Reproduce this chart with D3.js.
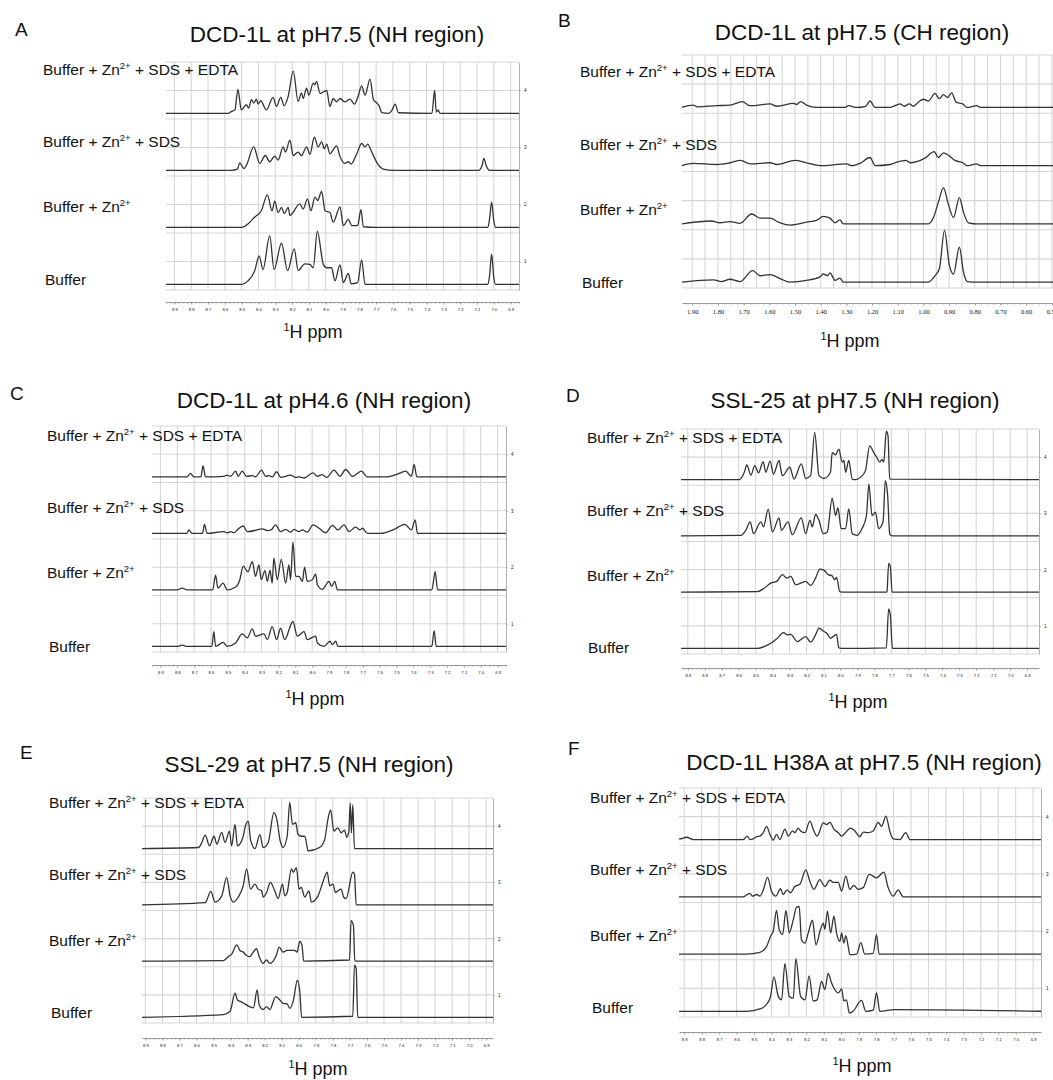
<!DOCTYPE html>
<html>
<head>
<meta charset="utf-8">
<script src="https://cdn.jsdelivr.net/npm/d3@7"></script>
<style>
  body { margin: 0; background: #fff; }
  text { font-family: "Liberation Sans", Arial, sans-serif; fill: #111; }
</style>
</head>
<body>
<svg id="fig" width="1053" height="1080"></svg>
<script>
// condition labels, top to bottom (text, superscript, rest)
var conditions = [
  ["Buffer + Zn", "2+", " + SDS + EDTA"],
  ["Buffer + Zn", "2+", " + SDS"],
  ["Buffer + Zn", "2+", ""],
  ["Buffer", "", ""]
];
// vertical stacking offset of each trace (y units)
var stackOffsets = [3.6, 2.6, 1.6, 0.6];

var nhTicks = [8.9, 8.8, 8.7, 8.6, 8.5, 8.4, 8.3, 8.2, 8.1, 8.0, 7.9, 7.8, 7.7, 7.6, 7.5, 7.4, 7.3, 7.2, 7.1, 7.0, 6.9];
var chTicks = [1.9, 1.8, 1.7, 1.6, 1.5, 1.4, 1.3, 1.2, 1.1, 1.0, 0.9, 0.8, 0.7, 0.6, 0.5];
var yTicks = [1, 2, 3, 4];

// spectra as [ppm, intensity]
// A: DCD-1L pH7.5 NH
var a_edta = [[8.95,0],[8.58,0],[8.562,0.03],[8.54,0.06],[8.522,0.42],[8.502,0.06],[8.472,0.15],[8.458,0.09],[8.442,0.24],[8.428,0.18],[8.412,0.25],[8.402,0.16],[8.387,0.22],[8.353,0.06],[8.313,0.28],[8.293,0.12],[8.267,0.28],[8.247,0.13],[8.223,0.3],[8.193,0.74],[8.164,0.21],[8.144,0.36],[8.134,0.26],[8.114,0.44],[8.1,0.32],[8.074,0.53],[8.064,0.5],[8.054,0.56],[8.034,0.35],[7.994,0.4],[7.975,0.12],[7.955,0.26],[7.935,0.2],[7.915,0.26],[7.885,0.2],[7.855,0.25],[7.829,0.16],[7.809,0.28],[7.786,0.48],[7.766,0.32],[7.736,0.6],[7.716,0.24],[7.696,0.18],[7.682,0.13],[7.666,0.01],[7.626,0],[7.606,0.05],[7.587,0.16],[7.567,0.01],[7.368,0],[7.352,0.4],[7.342,0.02],[7.332,0.06],[7.32,0],[6.85,0]];
var a_sds = [[8.95,0],[8.562,0],[8.525,0.02],[8.512,0.13],[8.486,0.03],[8.47,0.1],[8.428,0.41],[8.393,0.12],[8.359,0.26],[8.333,0.15],[8.303,0.25],[8.283,0.18],[8.253,0.41],[8.239,0.32],[8.213,0.53],[8.193,0.26],[8.164,0.32],[8.144,0.26],[8.114,0.41],[8.094,0.28],[8.068,0.58],[8.044,0.41],[8.024,0.5],[8.008,0.38],[7.994,0.46],[7.975,0.29],[7.935,0.43],[7.915,0.24],[7.885,0.12],[7.865,0.15],[7.849,0.11],[7.815,0.29],[7.786,0.47],[7.766,0.41],[7.75,0.46],[7.726,0.32],[7.686,0.09],[7.646,0.01],[7.6,0],[7.09,0],[7.07,0.08],[7.059,0.21],[7.045,0.08],[7.025,0],[6.85,0]];
var a_zn = [[8.95,0],[8.5,0],[8.462,0.06],[8.422,0.18],[8.383,0.29],[8.347,0.57],[8.319,0.29],[8.303,0.46],[8.283,0.26],[8.263,0.35],[8.247,0.24],[8.223,0.35],[8.213,0.21],[8.154,0.41],[8.134,0.32],[8.108,0.5],[8.088,0.29],[8.064,0.53],[8.048,0.47],[8.024,0.63],[8.004,0.29],[7.975,0.26],[7.955,0.09],[7.915,0.36],[7.895,0.03],[7.865,0.14],[7.845,0.03],[7.81,0.03],[7.79,0.31],[7.776,0.01],[7.7,0],[7.035,0],[7.025,0.15],[7.013,0.44],[7.0,0.12],[6.99,0],[6.85,0]];
var a_buffer = [[8.95,0],[8.5,0],[8.462,0.06],[8.422,0.24],[8.396,0.5],[8.373,0.26],[8.333,0.85],[8.307,0.26],[8.263,0.72],[8.227,0.24],[8.187,0.62],[8.164,0.24],[8.124,0.36],[8.094,0.35],[8.074,0.29],[8.05,0.93],[8.014,0.35],[7.994,0.29],[7.965,0.29],[7.945,0.06],[7.915,0.34],[7.895,0.03],[7.865,0.19],[7.849,0.01],[7.81,0.03],[7.786,0.43],[7.766,0],[7.035,0],[7.025,0.15],[7.013,0.53],[7.0,0.12],[6.99,0],[6.85,0]];

// B: DCD-1L pH7.5 CH
var b_edta = [[1.942,0],[1.896,0.04],[1.88,0.01],[1.805,0.03],[1.753,0.04],[1.705,0.1],[1.675,0.03],[1.597,0.06],[1.571,0.02],[1.506,0.07],[1.494,0.05],[1.478,0.1],[1.455,0.04],[1.416,0],[1.305,0],[1.292,0.03],[1.26,0],[1.225,0.02],[1.208,0.11],[1.188,0],[1.13,0],[1.091,0.06],[1.075,0.02],[1.055,0.06],[1.039,0.02],[1.02,0.09],[1.0,0.14],[0.981,0.11],[0.955,0.24],[0.938,0.15],[0.922,0.22],[0.906,0.17],[0.89,0.25],[0.873,0.09],[0.847,0.06],[0.831,0],[0.792,0.03],[0.779,0],[0.48,0]];
var b_sds = [[1.942,0],[1.896,0.04],[1.805,0.02],[1.753,0.05],[1.712,0.09],[1.675,0.03],[1.597,0.05],[1.571,0.02],[1.5,0.09],[1.455,0.05],[1.403,0],[1.299,0.03],[1.279,0],[1.247,0.04],[1.208,0.14],[1.188,0],[1.13,0.02],[1.104,0.06],[1.068,0.09],[1.052,0.05],[1.026,0.07],[0.994,0.13],[0.958,0.24],[0.942,0.14],[0.922,0.22],[0.903,0.18],[0.877,0.09],[0.847,0.05],[0.831,0],[0.792,0.03],[0.779,0],[0.48,0]];
var b_zn = [[1.942,0],[1.825,0.05],[1.792,0.02],[1.753,0.04],[1.714,0.01],[1.669,0.17],[1.636,0.1],[1.597,0.1],[1.565,0.03],[1.519,-0.02],[1.455,0.03],[1.416,0.06],[1.39,0.13],[1.364,0.1],[1.344,0.02],[1.325,0.07],[1.312,0],[0.981,0],[0.961,0.11],[0.942,0.37],[0.922,0.62],[0.903,0.34],[0.883,0.11],[0.86,0.45],[0.844,0.2],[0.825,0.02],[0.79,0],[0.48,0]];
var b_buffer = [[1.942,0],[1.818,0.04],[1.786,0.01],[1.753,0.05],[1.714,0.01],[1.665,0.2],[1.636,0.11],[1.597,0.13],[1.558,0.06],[1.519,0],[1.455,0.03],[1.403,0.09],[1.39,0.14],[1.373,0.11],[1.364,0.16],[1.344,0.03],[1.325,0.07],[1.312,0],[0.981,0],[0.955,0.11],[0.938,0.23],[0.918,0.89],[0.899,0.29],[0.883,0.14],[0.86,0.6],[0.844,0.17],[0.829,0.01],[0.79,0],[0.48,0]];

// C: DCD-1L pH4.6 NH
var c_edta = [[8.95,0],[8.742,0],[8.722,0.06],[8.702,0],[8.66,0],[8.647,0.2],[8.633,0],[8.524,0.01],[8.504,0.03],[8.484,0.01],[8.454,0.1],[8.439,0.01],[8.415,0.1],[8.389,0.01],[8.355,0.02],[8.336,0],[8.3,0.12],[8.276,0.01],[8.256,0.02],[8.237,0],[8.211,0.09],[8.187,-0.01],[8.128,0.03],[8.098,-0.01],[8.078,0],[8.048,-0.02],[7.995,0.07],[7.969,0.01],[7.94,0.04],[7.914,-0.01],[7.87,0.12],[7.835,0.01],[7.801,0.13],[7.761,0.01],[7.736,0.05],[7.708,0.1],[7.672,0],[7.553,0],[7.494,0.05],[7.445,0.1],[7.411,0.01],[7.395,0.22],[7.379,0],[6.85,0]];
var c_sds = [[8.95,0],[8.742,0],[8.732,0.06],[8.712,0],[8.65,0],[8.639,0.16],[8.623,0],[8.524,0.03],[8.504,0.01],[8.48,0.03],[8.464,0.01],[8.441,0.07],[8.409,0.13],[8.385,0.03],[8.326,0.06],[8.296,0.08],[8.266,0.05],[8.243,0.06],[8.217,0.15],[8.187,0.03],[8.157,0.07],[8.128,0.02],[8.108,0.07],[8.078,0.03],[8.058,0.06],[8.029,0.02],[7.995,0.15],[7.959,0.09],[7.92,0.01],[7.88,0.14],[7.847,0.06],[7.811,0.15],[7.781,0.03],[7.742,0.11],[7.716,0.06],[7.702,0.09],[7.672,0],[7.593,0],[7.514,0.07],[7.45,0.16],[7.411,0.06],[7.389,0.24],[7.375,0],[6.85,0]];
var c_zn = [[8.95,0],[8.8,0],[8.771,0.03],[8.742,0],[8.59,0],[8.573,0.26],[8.559,0.03],[8.528,0.12],[8.504,0],[8.454,0.05],[8.429,0.18],[8.409,0.42],[8.381,0.32],[8.355,0.5],[8.336,0.24],[8.316,0.44],[8.302,0.18],[8.28,0.34],[8.266,0.15],[8.25,0.35],[8.237,0.12],[8.227,0.56],[8.207,0.18],[8.183,0.54],[8.157,0.12],[8.138,0.44],[8.128,0.18],[8.114,0.85],[8.098,0.24],[8.078,0.24],[8.058,0.15],[8.045,0.4],[8.029,0.15],[7.999,0.18],[7.979,0.28],[7.969,0.09],[7.94,0.01],[7.9,0.15],[7.884,0.06],[7.866,0.15],[7.85,0],[7.29,0],[7.27,0.32],[7.256,0],[6.85,0]];
var c_buffer = [[8.95,0],[8.8,0],[8.771,0.02],[8.742,0],[8.595,0],[8.583,0.26],[8.573,0],[8.528,0.07],[8.504,0],[8.454,0.06],[8.415,0.22],[8.385,0.15],[8.355,0.31],[8.336,0.18],[8.286,0.22],[8.266,0.12],[8.237,0.35],[8.211,0.12],[8.187,0.32],[8.163,0.12],[8.114,0.44],[8.088,0.18],[8.048,0.26],[8.029,0.12],[7.979,0.18],[7.969,0.06],[7.93,0],[7.894,0.09],[7.88,0.03],[7.86,0.09],[7.847,0],[7.29,0],[7.276,0.28],[7.264,0],[6.85,0]];

// D: SSL-25 pH7.5 NH
var d_edta = [[8.95,0],[8.597,0],[8.567,0.13],[8.552,0.26],[8.528,0.08],[8.505,0.25],[8.483,0.12],[8.456,0.32],[8.44,0.13],[8.415,0.33],[8.395,0.1],[8.362,0.34],[8.352,0.19],[8.342,0.07],[8.299,0.22],[8.274,0.01],[8.231,0.28],[8.205,0.02],[8.176,0.07],[8.152,0.84],[8.127,0.07],[8.098,0.02],[8.059,0.13],[8.049,0.48],[8.029,0.44],[8.01,0.54],[7.99,0.31],[7.98,0.34],[7.97,0.13],[7.951,0.34],[7.931,0.01],[7.912,0],[7.882,0.04],[7.853,0.16],[7.828,0.6],[7.804,0.48],[7.785,0.39],[7.769,0.31],[7.755,0.36],[7.745,0.31],[7.73,0.86],[7.72,0.78],[7.71,0.01],[6.83,0]];
var d_sds = [[8.95,0],[8.587,0.01],[8.558,0.1],[8.532,0.25],[8.513,0.04],[8.469,0.25],[8.454,0.16],[8.426,0.47],[8.401,0.07],[8.362,0.32],[8.348,0.1],[8.309,0.25],[8.284,0.02],[8.231,0.32],[8.205,0.04],[8.18,0.28],[8.166,0.16],[8.147,0.38],[8.127,0.28],[8.102,0.04],[8.078,0.07],[8.049,0.67],[8.029,0.36],[8.015,0.5],[7.996,0.13],[7.97,0.13],[7.951,0.48],[7.931,0.04],[7.902,0.01],[7.873,0.13],[7.847,0.36],[7.833,0.92],[7.814,0.36],[7.794,0.42],[7.775,0.13],[7.749,0.25],[7.736,0.98],[7.722,0.72],[7.71,0.04],[7.696,0],[6.83,0]];
var d_zn = [[8.95,0],[8.489,0.01],[8.45,0.07],[8.411,0.16],[8.376,0.19],[8.342,0.31],[8.317,0.25],[8.293,0.28],[8.264,0.13],[8.205,0.19],[8.176,0.12],[8.147,0.25],[8.121,0.41],[8.098,0.39],[8.072,0.31],[8.049,0.29],[8.035,0.22],[8.023,0.26],[8.004,0.01],[7.98,0],[7.73,0],[7.726,0.01],[7.716,0.51],[7.706,0.45],[7.696,0],[6.83,0]];
var d_buffer = [[8.95,0],[8.489,0],[8.45,0.03],[8.411,0.09],[8.372,0.18],[8.336,0.28],[8.313,0.24],[8.293,0.25],[8.254,0.12],[8.205,0.21],[8.176,0.11],[8.147,0.24],[8.127,0.36],[8.102,0.31],[8.078,0.26],[8.059,0.18],[8.023,0.25],[8.01,0.01],[7.98,0],[7.73,0.01],[7.716,0.7],[7.706,0.59],[7.694,0],[6.83,0]];

// E: SSL-29 pH7.5 NH
var e_edta = [[8.95,0],[8.588,0.02],[8.569,0.11],[8.549,0.24],[8.524,0.05],[8.497,0.22],[8.481,0.08],[8.452,0.29],[8.433,0.11],[8.407,0.31],[8.394,0.05],[8.374,0.43],[8.36,0.05],[8.326,0.22],[8.316,0.37],[8.306,0.46],[8.296,0.49],[8.283,0.16],[8.257,0],[8.228,0.25],[8.209,0.02],[8.179,0.11],[8.146,0.64],[8.131,0.55],[8.107,0.11],[8.092,0.02],[8.068,0.22],[8.053,0.82],[8.037,0.43],[8.018,0.46],[8.004,0.25],[7.985,0.22],[7.965,0.22],[7.952,0.05],[7.946,-0.04],[7.878,0.02],[7.848,0.16],[7.829,0.52],[7.813,0.69],[7.794,0.31],[7.771,0.37],[7.751,0.28],[7.732,0.33],[7.718,0.2],[7.706,0.31],[7.698,0.81],[7.691,0.28],[7.683,0.78],[7.673,0],[6.85,0]];
var e_sds = [[8.95,0],[8.549,0.04],[8.516,0.24],[8.491,0.05],[8.452,0.16],[8.423,0.49],[8.403,0.16],[8.384,0.05],[8.355,0.14],[8.326,0.34],[8.306,0.64],[8.283,0.28],[8.257,0.37],[8.238,0.28],[8.218,0.25],[8.209,0.14],[8.189,0.22],[8.166,0.4],[8.141,0.25],[8.121,0.11],[8.096,0.37],[8.082,0.16],[8.068,0.22],[8.043,0.64],[8.033,0.58],[8.014,0.66],[7.998,0.28],[7.985,0.31],[7.965,0.14],[7.94,0.25],[7.926,0.05],[7.887,0.16],[7.862,0.37],[7.833,0.58],[7.819,0.34],[7.8,0.37],[7.784,0.22],[7.771,0.25],[7.751,0.28],[7.737,0.14],[7.722,0.11],[7.683,0.58],[7.673,0.55],[7.663,0],[6.85,0]];
var e_zn = [[8.95,0],[8.442,0.01],[8.413,0.08],[8.394,0.12],[8.364,0.29],[8.345,0.19],[8.326,0.16],[8.31,0.11],[8.29,0.08],[8.248,0.22],[8.232,0.08],[8.209,-0.04],[8.189,0.02],[8.17,-0.04],[8.131,0.11],[8.115,0.25],[8.092,0.16],[8.068,0.19],[8.043,0.19],[8.024,0.19],[8.01,0.16],[7.994,0.35],[7.981,0.28],[7.971,0],[7.702,0.02],[7.693,0.72],[7.679,0.63],[7.671,0],[6.85,0]];
var e_buffer = [[8.95,0],[8.442,0.05],[8.403,0.11],[8.374,0.43],[8.36,0.31],[8.341,0.28],[8.316,0.24],[8.296,0.2],[8.266,0.17],[8.244,0.49],[8.232,0.22],[8.209,0.14],[8.189,0.19],[8.17,0.14],[8.135,0.37],[8.111,0.31],[8.092,0.25],[8.068,0.24],[8.053,0.16],[8.033,0.28],[8.008,0.66],[7.994,0.46],[7.983,0],[7.683,0.02],[7.673,0.93],[7.663,0.87],[7.654,0],[6.85,0]];

// F: DCD-1L H38A pH7.5 NH
var f_edta = [[8.95,0.01],[8.925,0.01],[8.887,0.04],[8.848,0],[8.562,0],[8.539,0.06],[8.524,0],[8.505,0.01],[8.485,0.05],[8.466,0.06],[8.447,0.12],[8.428,0.23],[8.409,0.09],[8.39,-0.01],[8.371,0.09],[8.352,0],[8.323,0.18],[8.304,0.06],[8.279,0.15],[8.266,0.12],[8.247,0.2],[8.233,0.15],[8.208,0.12],[8.18,0.32],[8.157,0.15],[8.138,0.06],[8.103,0.29],[8.084,0.26],[8.065,0.3],[8.042,0.18],[8.017,0.12],[7.998,0.06],[7.979,0.11],[7.947,0.2],[7.922,0.15],[7.893,0.05],[7.874,0.13],[7.846,0.12],[7.817,0.15],[7.788,0.3],[7.769,0.23],[7.744,0.41],[7.722,0.15],[7.702,0.01],[7.664,0],[7.63,0.12],[7.607,0],[6.85,0]];
var f_sds = [[8.95,0],[8.562,0],[8.524,0.06],[8.508,0.01],[8.485,0.04],[8.466,0.01],[8.447,0.12],[8.422,0.34],[8.4,0.1],[8.375,0.01],[8.348,0.14],[8.333,0.04],[8.31,0.12],[8.291,0.07],[8.266,0.18],[8.237,0.22],[8.203,0.47],[8.18,0.27],[8.157,0.13],[8.123,0.3],[8.094,0.18],[8.065,0.29],[8.046,0.25],[8.017,0.25],[7.998,0.1],[7.974,0.36],[7.951,0.13],[7.928,0.2],[7.903,0.13],[7.874,0.16],[7.84,0.39],[7.817,0.36],[7.798,0.33],[7.756,0.43],[7.731,0.16],[7.702,0.01],[7.674,0.12],[7.645,0],[6.85,0]];
var f_zn = [[8.95,0],[8.543,0],[8.466,0.03],[8.428,0.13],[8.405,0.31],[8.39,0.4],[8.371,0.76],[8.356,0.43],[8.336,0.34],[8.317,0.76],[8.298,0.37],[8.275,0.6],[8.256,0.82],[8.241,0.83],[8.228,0.25],[8.208,0.19],[8.189,0.37],[8.165,0.59],[8.145,0.16],[8.119,0.43],[8.103,0.54],[8.094,0.43],[8.079,0.75],[8.061,0.37],[8.042,0.66],[8.027,0.37],[8.008,0.22],[7.998,0.37],[7.985,0.19],[7.974,0.32],[7.96,0.13],[7.951,-0.01],[7.912,0],[7.888,0.2],[7.865,0],[7.817,0.01],[7.798,0.34],[7.783,0],[6.85,0]];
var f_buffer = [[8.95,0],[8.543,0],[8.466,0.04],[8.428,0.12],[8.405,0.26],[8.386,0.6],[8.361,0.26],[8.342,0.2],[8.323,0.83],[8.298,0.26],[8.275,0.23],[8.26,0.92],[8.233,0.26],[8.208,0.2],[8.184,0.62],[8.161,0.18],[8.138,0.2],[8.113,0.52],[8.094,0.38],[8.075,0.66],[8.056,0.5],[8.037,0.38],[8.017,0.32],[7.998,0.39],[7.985,0.18],[7.97,0.2],[7.954,-0.03],[7.932,0],[7.884,0.19],[7.859,0],[7.817,0.02],[7.798,0.32],[7.779,0],[7.693,0.03],[6.85,0]];

// panel layout
var panels = [
  {letter:"A", lx:15, ly:36, title:"DCD-1L at pH7.5 (NH region)", tx:337, ty:42,
   x0:166, x1:519, y0:62, y1:290, dom:[8.95,6.85], axisY:302, ch:false,
   labX:[43,43,43,45], labY:[75,147,212,285], px:313, py:338,
   traces:[a_edta,a_sds,a_zn,a_buffer]},
  {letter:"B", lx:558, ly:27, title:"DCD-1L at pH7.5 (CH region)", tx:862, ty:40,
   x0:682, x1:1057, y0:55, y1:288, dom:[1.94,0.48], axisY:303, ch:true, noRight:true,
   labX:[580,580,580,582], labY:[77,150,215,288], px:850, py:347,
   traces:[b_edta,b_sds,b_zn,b_buffer]},
  {letter:"C", lx:10, ly:400, title:"DCD-1L at pH4.6 (NH region)", tx:324, ty:408,
   x0:152, x1:506, y0:426, y1:652, dom:[8.95,6.85], axisY:665, ch:false,
   labX:[47,47,47,49], labY:[441,513,578,652], px:315, py:705,
   traces:[c_edta,c_sds,c_zn,c_buffer]},
  {letter:"D", lx:566, ly:402, title:"SSL-25 at pH7.5 (NH region)", tx:855, ty:408,
   x0:681, x1:1039, y0:429, y1:654, dom:[8.94,6.83], axisY:668, ch:false,
   labX:[587,587,587,588], labY:[443,516,581,653], px:858, py:708,
   traces:[d_edta,d_sds,d_zn,d_buffer]},
  {letter:"E", lx:20, ly:759, title:"SSL-29 at pH7.5 (NH region)", tx:309, ty:772,
   x0:142, x1:493, y0:798, y1:1023, dom:[8.92,6.86], axisY:1038, ch:false,
   labX:[49,49,49,51], labY:[808,880,946,1018], px:318, py:1075,
   traces:[e_edta,e_sds,e_zn,e_buffer]},
  {letter:"F", lx:568, ly:755, title:"DCD-1L H38A at pH7.5 (NH region)", tx:864, ty:770,
   x0:679, x1:1041, y0:788, y1:1017, dom:[8.93,6.855], axisY:1032, ch:false,
   labX:[590,590,590,592], labY:[803,875,941,1013], px:862, py:1072,
   traces:[f_edta,f_sds,f_zn,f_buffer]}
];

var svg = d3.select("#fig");
svg.append("rect").attr("width", 1053).attr("height", 1080).attr("fill", "#fff");

panels.forEach(function(p, pi){
  var g = svg.append("g");
  var x = d3.scaleLinear().domain(p.dom).range([p.x0, p.x1]);
  var y = d3.scaleLinear().domain([0.5, 4.5]).range([p.y1, p.y0]);
  var lo = Math.min(p.dom[0], p.dom[1]), hi = Math.max(p.dom[0], p.dom[1]);

  // grid
  var vgrid = p.ch ? d3.range(10, 39).map(function(v){ return v / 20; })
                   : d3.range(69, 90).map(function(v){ return v / 10; });
  vgrid = vgrid.filter(function(v){ return v >= lo && v <= hi; });
  g.selectAll(".vg").data(vgrid).enter().append("line")
    .attr("x1", function(d){ return x(d); }).attr("x2", function(d){ return x(d); })
    .attr("y1", p.y0).attr("y2", p.y1)
    .attr("stroke", "#d6d6d6").attr("stroke-width", 1.1);
  var hgrid = d3.range(1, 10).map(function(v){ return v / 2; });
  g.selectAll(".hg").data(hgrid).enter().append("line")
    .attr("x1", p.x0).attr("x2", p.x1)
    .attr("y1", function(d){ return y(d); }).attr("y2", function(d){ return y(d); })
    .attr("stroke", "#d6d6d6").attr("stroke-width", 1.1);

  // right y axis (off the page in B)
  if (!p.noRight) {
    var ya = g.append("g").attr("transform", "translate(" + p.x1 + ",0)")
      .call(d3.axisRight(y).tickValues(yTicks).tickSize(2).tickSizeOuter(0).tickFormat(d3.format("d")));
    ya.selectAll("path,line").attr("stroke", "#b0b0b0");
    ya.selectAll("text").attr("font-size", 4.5).attr("fill", "#777");
  }

  // bottom ppm axis
  var minor = d3.range(Math.ceil(lo * 40), Math.floor(hi * 40) + 1).map(function(v){ return v / 40; });
  var ticks = p.ch ? chTicks : nhTicks;
  var xaMinor = g.append("g").attr("transform", "translate(0," + p.axisY + ")")
    .call(d3.axisBottom(x).tickValues(minor).tickSize(1.5).tickSizeOuter(0).tickFormat(""));
  xaMinor.selectAll("path,line").attr("stroke", "#999");
  var xa = g.append("g").attr("transform", "translate(0," + p.axisY + ")")
    .call(d3.axisBottom(x).tickValues(ticks).tickSize(2.5).tickSizeOuter(0)
      .tickFormat(p.ch ? d3.format(".2f") : d3.format(".1f")));
  xa.select("path").remove();
  xa.selectAll("line").attr("stroke", "#999");
  xa.selectAll("text").attr("fill", "#555")
    .attr("font-size", p.ch ? 6.5 : 4.2)
    .style("font-family", p.ch ? "'Liberation Serif', 'Times New Roman', serif" : null)
    .attr("dy", p.ch ? "0.9em" : "0.8em");

  // spectra
  g.append("clipPath").attr("id", "clip" + pi).append("rect")
    .attr("x", p.x0).attr("y", p.y0 - 30).attr("width", p.x1 - p.x0).attr("height", p.y1 - p.y0 + 40);
  var line = d3.line().curve(d3.curveMonotoneX);
  p.traces.forEach(function(tr, i){
    line.x(function(d){ return x(d[0]); }).y(function(d){ return y(d[1] + stackOffsets[i]); });
    g.append("path").datum(tr)
      .attr("clip-path", "url(#clip" + pi + ")")
      .attr("d", line)
      .attr("fill", "none").attr("stroke", "#333").attr("stroke-width", 1.3)
      .attr("stroke-linejoin", "round");
  });

  // condition labels
  conditions.forEach(function(c, i){
    var t = g.append("text").attr("x", p.labX[i]).attr("y", p.labY[i]).attr("font-size", 15.5);
    t.append("tspan").text(c[0]);
    if (c[1]) {
      t.append("tspan").attr("font-size", 9.5).attr("dy", -6).text(c[1]);
      t.append("tspan").attr("dy", 6).text(c[2]);
    }
  });

  // title, letter, axis title
  g.append("text").attr("x", p.tx).attr("y", p.ty).attr("text-anchor", "middle")
    .attr("font-size", 22.5).text(p.title);
  g.append("text").attr("x", p.lx).attr("y", p.ly).attr("font-size", 19).text(p.letter);
  var at = g.append("text").attr("x", p.px).attr("y", p.py).attr("text-anchor", "middle").attr("font-size", 18);
  at.append("tspan").attr("font-size", 11).attr("dy", -7).text("1");
  at.append("tspan").attr("dy", 7).text("H ppm");
});
</script>
</body>
</html>
